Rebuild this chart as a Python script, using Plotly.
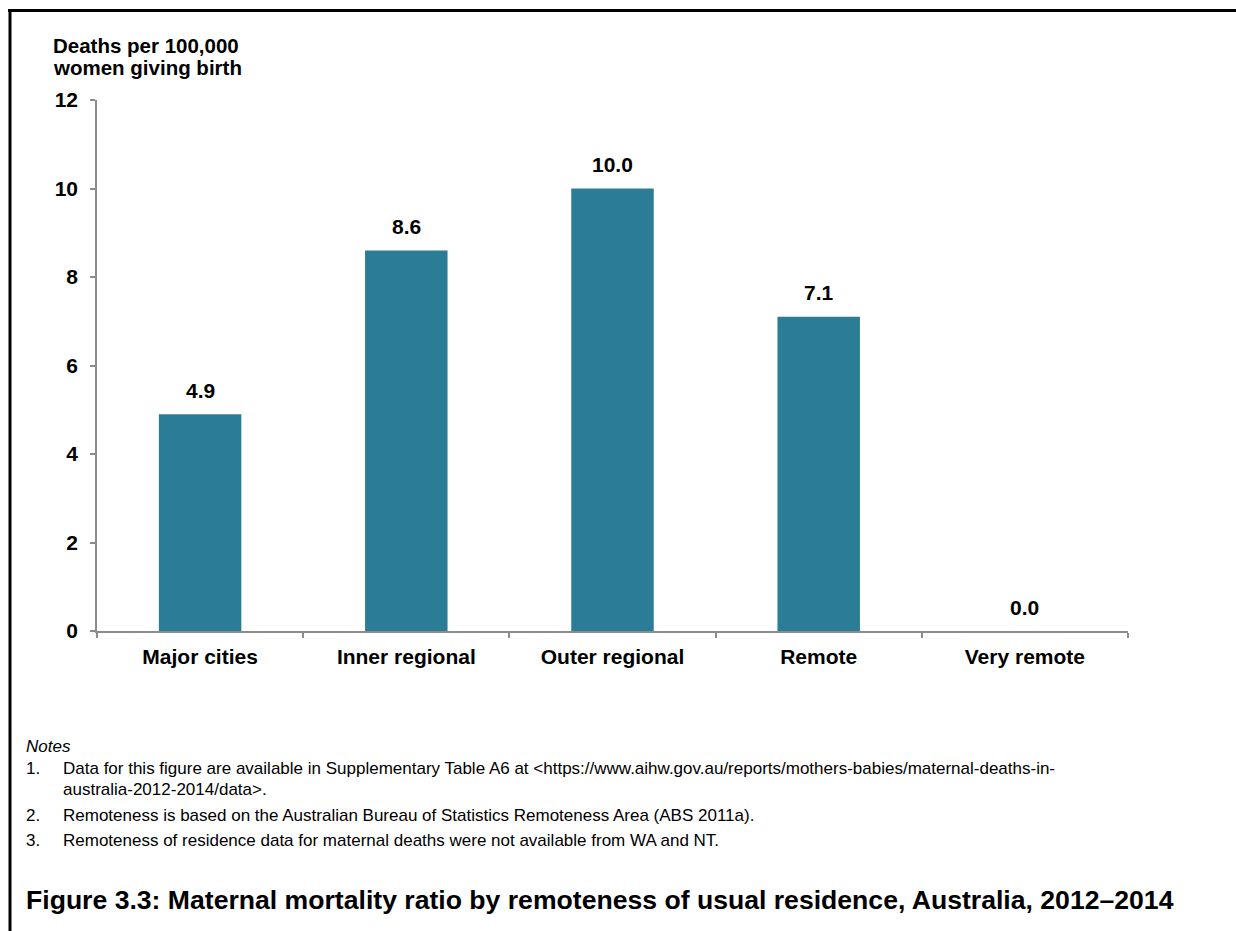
import plotly.graph_objects as go

categories = ["Major cities", "Inner regional", "Outer regional", "Remote", "Very remote"]
values = [4.9, 8.6, 10.0, 7.1, 0.0]
y_ticks = [0, 2, 4, 6, 8, 10, 12]
y_title_lines = ["Deaths per 100,000", "women giving birth"]
notes_heading = "Notes"
note_numbers = ["1.", "2.", "3."]
note_lines = [
    ["Data for this figure are available in Supplementary Table A6 at <https://www.aihw.gov.au/reports/mothers-babies/maternal-deaths-in-",
     "australia-2012-2014/data>."],
    ["Remoteness is based on the Australian Bureau of Statistics Remoteness Area (ABS 2011a)."],
    ["Remoteness of residence data for maternal deaths were not available from WA and NT."],
]
fig_title = "Figure 3.3: Maternal mortality ratio by remoteness of usual residence, Australia, 2012–2014"

W, H = 1236, 931
FONT = "Arial, Liberation Sans, sans-serif"
BAR = "#2B7C96"
AXIS = "#8C8C8C"
LBL = 21

def px(x):
    return x / W

def py(y):
    return (H - y) / H

fig = go.Figure()
fig.add_trace(go.Bar(
    x=categories, y=values, marker_color=BAR, marker_line_width=0,
    hoverinfo="skip",
))

annotations = []
for c, v in zip(categories, values):
    annotations.append(dict(
        x=c, y=v, xref="x", yref="y", text=f"{v:.1f}", showarrow=False,
        yanchor="middle", yshift=24,
        font=dict(family=FONT, size=21, color="black", weight="bold"),
    ))

for line, yy in zip(y_title_lines, [46, 68]):
    annotations.append(dict(
        x=px(52), y=py(yy), xref="paper", yref="paper", xanchor="left", yanchor="middle",
        text=line, showarrow=False, align="left", borderpad=0,
        font=dict(family=FONT, size=20.5, color="black", weight="bold"),
    ))

NOTE_SIZE = 17
annotations.append(dict(
    x=px(24), y=py(746), xref="paper", yref="paper", xanchor="left", yanchor="middle",
    text=f"<i>{notes_heading}</i>", showarrow=False, align="left",
    font=dict(family=FONT, size=NOTE_SIZE, color="black"),
))
note_y = [[768, 789], [815], [840]]
for num, lines, ys in zip(note_numbers, note_lines, note_y):
    annotations.append(dict(
        x=px(24), y=py(ys[0]), xref="paper", yref="paper", xanchor="left", yanchor="middle",
        text=num, showarrow=False, font=dict(family=FONT, size=NOTE_SIZE, color="black"),
    ))
    for txt, yy in zip(lines, ys):
        annotations.append(dict(
            x=px(62), y=py(yy), xref="paper", yref="paper", xanchor="left", yanchor="middle",
            text=txt, showarrow=False, align="left", borderpad=0,
            font=dict(family=FONT, size=NOTE_SIZE, color="black"),
        ))

annotations.append(dict(
    x=px(24), y=py(900), xref="paper", yref="paper", xanchor="left", yanchor="middle",
    text=fig_title, showarrow=False, align="left",
    font=dict(family=FONT, size=26.6, color="black", weight="bold"),
))

shapes = [
    dict(type="line", xref="paper", yref="paper", x0=px(8), x1=1.0, y0=py(10.5), y1=py(10.5),
         line=dict(color="black", width=3)),
    dict(type="line", xref="paper", yref="paper", x0=px(10), x1=px(10), y0=py(9), y1=0.0,
         line=dict(color="black", width=3)),
]

fig.update_layout(
    width=W, height=H,
    margin=dict(l=0, r=0, t=0, b=0, autoexpand=False),
    paper_bgcolor="white", plot_bgcolor="white",
    showlegend=False,
    bargap=0.6,
    annotations=annotations,
    shapes=shapes,
    font=dict(family=FONT, color="black"),
    xaxis=dict(
        domain=[px(97), px(1128)], automargin=False,
        showline=True, linecolor=AXIS, linewidth=1.5,
        ticks="outside", tickson="boundaries", ticklen=5, tickcolor=AXIS, tickwidth=1.5,
        tickfont=dict(family=FONT, size=LBL, color="black", weight="bold"),
        ticklabelstandoff=6,
        showgrid=False, zeroline=False, fixedrange=True,
    ),
    yaxis=dict(
        domain=[py(631), py(100)], automargin=False,
        range=[0, 12], tickvals=y_ticks,
        showline=True, linecolor=AXIS, linewidth=1.5,
        ticks="outside", ticklen=5, tickcolor=AXIS, tickwidth=1.5,
        tickfont=dict(family=FONT, size=LBL, color="black", weight="bold"),
        ticklabelstandoff=8,
        showgrid=False, zeroline=False, fixedrange=True,
    ),
)

fig.write_html(
    "out.html",
    config={"displayModeBar": False},
    post_script="document.body.style.margin='0';document.body.style.overflow='hidden';",
)
